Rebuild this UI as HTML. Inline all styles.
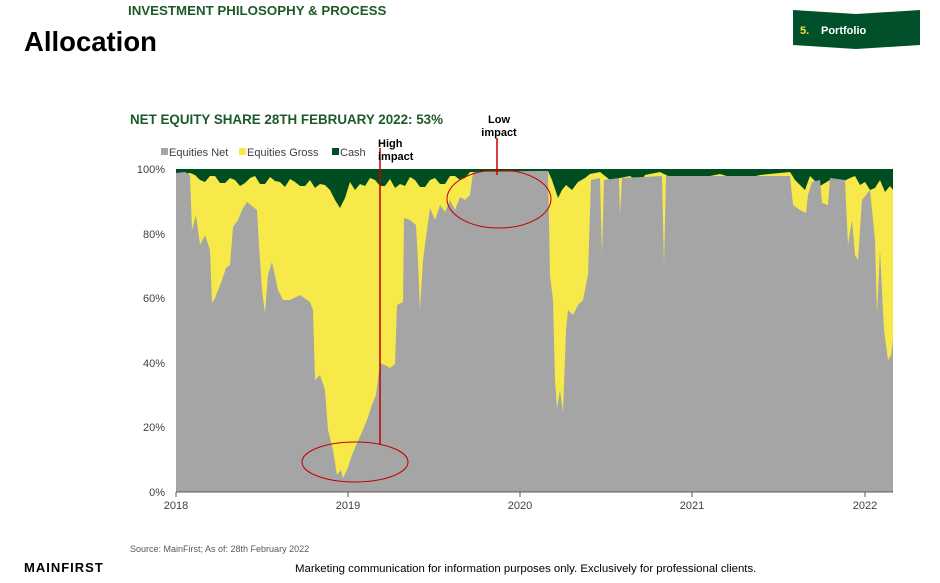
<!DOCTYPE html>
<html><head><meta charset="utf-8"><style>
body{margin:0;background:#fff;}
svg text{font-family:"Liberation Sans",Arial,sans-serif;}
</style></head><body>
<svg width="940" height="578" viewBox="0 0 940 578" xmlns="http://www.w3.org/2000/svg">
<text x="128" y="15" font-size="13.3" font-weight="bold" fill="#1d5a2b">INVESTMENT PHILOSOPHY &amp; PROCESS</text>
<text x="24" y="51" font-size="27.5" font-weight="bold" fill="#000">Allocation</text>
<polygon points="793,10 856,14 920,10 920,45 856,49 793,45" fill="#00502a"/>
<text x="800" y="34" font-size="11" font-weight="bold" fill="#f5e33a">5.</text>
<text x="821" y="34" font-size="11" font-weight="bold" fill="#fff">Portfolio</text>
<text x="130" y="124" font-size="13.4" font-weight="bold" fill="#1d5a2b">NET EQUITY SHARE 28TH FEBRUARY 2022: 53%</text>
<rect x="161" y="148" width="7" height="7" fill="#a5a5a5"/><text x="169" y="156" font-size="11" fill="#404040">Equities Net</text>
<rect x="239" y="148" width="7" height="7" fill="#f7e94a"/><text x="247" y="156" font-size="11" fill="#404040">Equities Gross</text>
<rect x="332" y="148" width="7" height="7" fill="#004d21"/><text x="340" y="156" font-size="11" fill="#404040">Cash</text>
<rect x="176" y="169" width="717" height="323" fill="#f7e94a"/>
<polygon fill="#004d21" points="176,169 893,169 893,190 890,186 885,192 880,180 875,188 870,190 865,182 860,185 855,176 850,178 840,183 830,180 820,186 810,176 805,190 800,185 795,180 790,172 760,175 740,180 720,174 700,178 680,182 660,172 645,175 640,183 630,176 610,180 600,172 590,174 585,178 578,182 572,190 566,185 562,190 558,198 552,180 548,171 470,172 465,178 460,180 455,176 450,176 445,184 440,184 435,178 430,180 425,187 420,187 415,180 410,177 405,186 400,184 395,188 390,179 385,186 380,186 375,180 370,178 365,186 360,184 355,190 350,182 345,198 340,208 335,200 330,190 325,185 320,184 315,188 310,180 305,186 300,186 295,182 290,179 285,187 280,182 275,181 270,177 265,184 260,184 255,176 250,178 245,183 240,186 235,180 230,178 225,183 220,183 215,176 210,176 205,182 200,180 195,175 190,173 176,175"/>
<polygon fill="#a5a5a5" points="176,492 176,173 185,172 190,175 192,230 196,215 200,245 205,235 210,250 212,303 215,298 217,293 222,280 226,268 230,265 233,227 238,220 242,210 247,202 252,206 257,210 259,245 262,290 265,313 268,275 272,262 278,290 283,300 290,300 300,295 310,302 313,310 315,380 320,375 325,390 328,430 333,450 337,475 341,470 343,478 347,470 352,455 357,443 362,432 367,420 372,405 376,395 380,363 385,365 390,368 395,364 397,305 403,302 404,218 410,220 416,225 418,262 420,310 423,260 427,230 430,208 435,220 440,205 445,212 450,200 455,210 460,197 465,200 470,195 473,172 548,171 550,275 553,300 555,380 557,408 560,390 563,412 566,330 568,310 573,315 578,305 583,300 588,275 591,180 600,178 602,255 604,180 619,178 620,215 622,178 662,176 664,265 666,176 790,176 793,205 800,210 806,213 808,195 812,182 820,180 822,203 828,205 830,178 845,180 848,245 852,220 855,255 858,260 862,200 870,190 875,240 877,315 880,250 884,330 888,360 891,355 893,340 893,492"/>
<line x1="176" y1="492" x2="893" y2="492" stroke="#595959" stroke-width="1"/>
<g stroke="#595959"><line x1="176" y1="492" x2="176" y2="497"/><line x1="348" y1="492" x2="348" y2="497"/><line x1="520" y1="492" x2="520" y2="497"/><line x1="692" y1="492" x2="692" y2="497"/><line x1="865" y1="492" x2="865" y2="497"/></g>
<g font-size="11" fill="#404040" text-anchor="middle"><text x="176" y="509">2018</text><text x="348" y="509">2019</text><text x="520" y="509">2020</text><text x="692" y="509">2021</text><text x="865" y="509">2022</text></g>
<g font-size="11" fill="#404040" text-anchor="end"><text x="165" y="173">100%</text><text x="165" y="238">80%</text><text x="165" y="302">60%</text><text x="165" y="367">40%</text><text x="165" y="431">20%</text><text x="165" y="496">0%</text></g>
<line x1="380" y1="148" x2="380" y2="445" stroke="#c00000" stroke-width="1.5"/>
<ellipse cx="355" cy="462" rx="53" ry="20" fill="none" stroke="#c00000" stroke-width="1"/>
<line x1="497" y1="138" x2="497" y2="175" stroke="#c00000" stroke-width="1.5"/>
<ellipse cx="499" cy="199" rx="52" ry="29" fill="none" stroke="#c00000" stroke-width="1"/>
<g font-size="11" font-weight="bold" fill="#000"><text x="378" y="147">High</text><text x="378" y="160">impact</text><text x="499" y="123" text-anchor="middle">Low</text><text x="499" y="136" text-anchor="middle">impact</text></g>
<text x="130" y="552" font-size="9" fill="#595959">Source: MainFirst; As of: 28th February 2022</text>
<text x="24" y="572" font-size="13" font-weight="bold" fill="#000" letter-spacing="1">MAINFIRST</text>
<text x="295" y="572" font-size="11.4" fill="#000">Marketing communication for information purposes only. Exclusively for professional clients.</text>
</svg>
</body></html>
